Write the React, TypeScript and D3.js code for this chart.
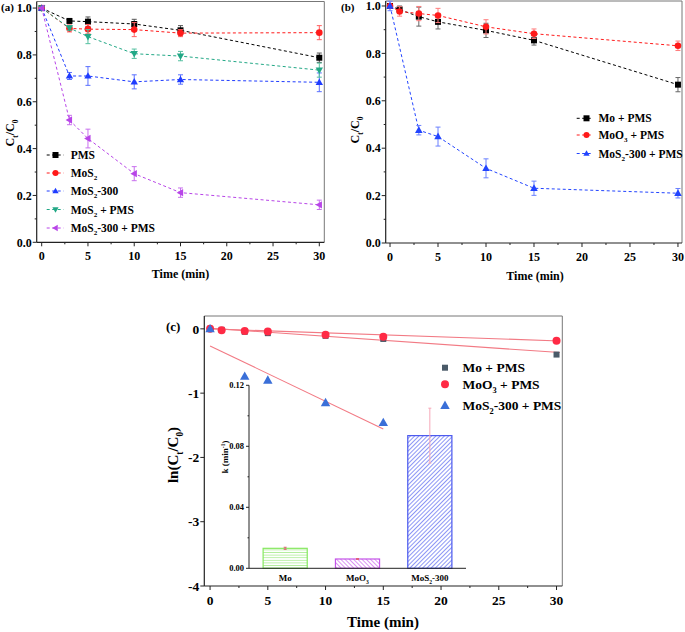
import React from "react";
import * as d3 from "d3";

// ---------- DATA ----------
const tA = [0, 3, 5, 10, 15, 30];
const aPMS = [1, 0.945, 0.942, 0.932, 0.905, 0.788];
const aPMSErr = [0, 0.008, 0.02, 0.02, 0.02, 0.02];
const aMoS2 = [1, 0.913, 0.91, 0.908, 0.893, 0.895];
const aMoS2Err = [0, 0.015, 0.02, 0.03, 0.015, 0.03];
const aMoS2300 = [1, 0.71, 0.71, 0.685, 0.695, 0.683];
const aMoS2300Err = [0, 0.015, 0.04, 0.03, 0.02, 0.04];
const aMoS2PMS = [1, 0.915, 0.878, 0.805, 0.795, 0.735];
const aMoS2PMSErr = [0, 0.01, 0.03, 0.02, 0.02, 0.03];
const aMoS2300PMS = [1, 0.522, 0.443, 0.293, 0.212, 0.16];
const aMoS2300PMSErr = [0, 0.02, 0.04, 0.03, 0.02, 0.02];

const tB = [0, 1, 3, 5, 10, 15, 30];
const bMo = [1, 0.985, 0.955, 0.933, 0.897, 0.855, 0.668];
const bMoErr = [0, 0.015, 0.04, 0.03, 0.03, 0.02, 0.03];
const bMoO3 = [1, 0.977, 0.968, 0.96, 0.912, 0.883, 0.832];
const bMoO3Err = [0, 0.02, 0.03, 0.03, 0.03, 0.02, 0.02];
const tB3 = [0, 3, 5, 10, 15, 30];
const bMoS2 = [1, 0.476, 0.449, 0.315, 0.231, 0.21];
const bMoS2Err = [0.02, 0.02, 0.04, 0.04, 0.03, 0.02];

const tC = [0, 1, 3, 5, 10, 15, 30];
const cMo = [0, -0.015, -0.046, -0.067, -0.109, -0.157, -0.4];
const cMoO3 = [0, -0.023, -0.033, -0.041, -0.092, -0.124, -0.184];
const tC3 = [0, 3, 5, 10, 15];
const cMoS2 = [0, -0.74, -0.8, -1.15, -1.46];
// linear fits: [intercept, slope, tStart, tEnd]
const fitMo = [0.01, -0.0125, 0, 30.3];
const fitMoO3 = [0, -0.0062, 0, 30.3];
const fitMoS2 = [-0.265, -0.0863, 0, 15];

const kCats = ["Mo", "MoO3", "MoS2-300"];
const kVals = [0.0131, 0.0061, 0.087];
const kErrs = [0.0007, 0.0003, 0.018];

const xTicks = [0, 5, 10, 15, 20, 25, 30];
const yTicksAB = [0, 0.2, 0.4, 0.6, 0.8, 1.0];
const yTicksC = [0, -1, -2, -3, -4];
const yTicksK = [0, 0.04, 0.08, 0.12];

const FONT = "Liberation Serif, Times New Roman, Times, serif";

// ---------- helpers ----------
type MType = "square" | "circle" | "up" | "down" | "left";
function markerPath(t: MType, s: number) {
  switch (t) {
    case "square":
      return `M${-s},${-s}h${2 * s}v${2 * s}h${-2 * s}Z`;
    case "circle":
      return `M${-s},0a${s},${s} 0 1,0 ${2 * s},0a${s},${s} 0 1,0 ${-2 * s},0Z`;
    case "up":
      return `M0,${-s * 1.1}L${s * 1.05},${s * 0.75}L${-s * 1.05},${s * 0.75}Z`;
    case "down":
      return `M0,${s * 1.1}L${s * 1.05},${-s * 0.75}L${-s * 1.05},${-s * 0.75}Z`;
    case "left":
      return `M${-s * 1.1},0L${s * 0.75},${s * 1.05}L${s * 0.75},${-s * 1.05}Z`;
  }
}

function Label({ parts, x, y, size, anchor = "start", rotate = 0 }: any) {
  return (
    <text
      x={x}
      y={y}
      fontSize={size}
      fontFamily={FONT}
      fontWeight="bold"
      textAnchor={anchor}
      transform={rotate ? `rotate(${rotate},${x},${y})` : undefined}
    >
      {parts.map((p: any, i: number) =>
        typeof p === "string" ? (
          <tspan key={i}>{p}</tspan>
        ) : (
          <tspan key={i} fontSize={p.small ? size * 0.62 : size} dy={p.dy * size}>
            {p.t}
          </tspan>
        )
      )}
    </text>
  );
}
const sub = (t: string) => ({ t, dy: 0.3, small: true });
const sup = (t: string) => ({ t, dy: -0.38, small: true });
const back = (t: string, d = -0.3) => ({ t, dy: d, small: false });

function Series({ xs, ys, errs, x, y, color, errColor, marker, size, dashed = true }: any) {
  const line = d3
    .line<number>()
    .x((_, i) => x(xs[i]))
    .y((v) => y(v));
  return (
    <g>
      {dashed && (
        <path d={line(ys) || ""} fill="none" stroke={color} strokeWidth={1} strokeDasharray="3,2.5" />
      )}
      {errs &&
        ys.map((v: number, i: number) =>
          errs[i] > 0 ? (
            <g key={i} stroke={errColor} strokeWidth={1}>
              <line x1={x(xs[i])} x2={x(xs[i])} y1={y(v - errs[i])} y2={y(v + errs[i])} />
              <line x1={x(xs[i]) - 2.5} x2={x(xs[i]) + 2.5} y1={y(v - errs[i])} y2={y(v - errs[i])} />
              <line x1={x(xs[i]) - 2.5} x2={x(xs[i]) + 2.5} y1={y(v + errs[i])} y2={y(v + errs[i])} />
            </g>
          ) : null
        )}
      {ys.map((v: number, i: number) => (
        <path key={i} d={markerPath(marker, size)} transform={`translate(${x(xs[i])},${y(v)})`} fill={color} />
      ))}
    </g>
  );
}

function Frame({ x, y, xt, yt, fmt, tickSize, fs, minorX, minorY }: any) {
  const [x0, x1] = x.range();
  const [y0, y1] = y.range();
  return (
    <g>
      <line x1={x0} x2={x1} y1={y1} y2={y1} stroke="#777" strokeWidth={1} />
      <line x1={x1} x2={x1} y1={y1} y2={y0} stroke="#777" strokeWidth={1} />
      <line x1={x0} x2={x1} y1={y0} y2={y0} stroke="#222" strokeWidth={1.2} />
      <line x1={x0} x2={x0} y1={y1} y2={y0} stroke="#222" strokeWidth={1.2} />
      {xt.map((t: number) => (
        <g key={"x" + t}>
          <line x1={x(t)} x2={x(t)} y1={y0} y2={y0 + 4} stroke="#222" />
          <text x={x(t)} y={y0 + tickSize + 6} fontSize={fs} fontFamily={FONT} fontWeight="bold" textAnchor="middle">
            {t}
          </text>
        </g>
      ))}
      {minorX.map((t: number) => (
        <line key={"mx" + t} x1={x(t)} x2={x(t)} y1={y0} y2={y0 + 2} stroke="#222" />
      ))}
      {yt.map((t: number) => (
        <g key={"y" + t}>
          <line x1={x0} x2={x0 - 4} y1={y(t)} y2={y(t)} stroke="#222" />
          <text x={x0 - 5} y={y(t) + fs * 0.35} fontSize={fs} fontFamily={FONT} fontWeight="bold" textAnchor="end">
            {fmt(t)}
          </text>
        </g>
      ))}
      {minorY.map((t: number) => (
        <line key={"my" + t} x1={x0} x2={x0 - 2} y1={y(t)} y2={y(t)} stroke="#222" />
      ))}
    </g>
  );
}

export default function App() {
  const xA = d3.scaleLinear().domain([-0.54, 30.54]).range([36.7, 324.3]);
  const yA = d3.scaleLinear().domain([0, 1.028]).range([242.3, 1.5]);
  const xB = d3.scaleLinear().domain([-0.45, 30.42]).range([385.7, 682]);
  const yB = d3.scaleLinear().domain([0, 1.021]).range([243, 1]);
  const xC = d3.scaleLinear().domain([-0.5, 30.5]).range([204.3, 562.3]);
  const yC = d3.scaleLinear().domain([-4, 0.2]).range([586, 316]);
  const xI = d3.scaleBand<string>().domain(kCats).range([249, 466]).paddingInner(0.39).paddingOuter(0.195);
  const yI = d3.scaleLinear().domain([0, 0.12]).range([568.3, 385.3]);

  const minorX = [2.5, 7.5, 12.5, 17.5, 22.5, 27.5];
  const fmt1 = (v: number) => v.toFixed(1);

  const legA = [
    { parts: ["PMS"], c: "#000", m: "square" },
    { parts: ["MoS", sub("2")], c: "#ff1a1a", m: "circle" },
    { parts: ["MoS", sub("2"), back("-300")], c: "#1f3cff", m: "up" },
    { parts: ["MoS", sub("2"), back(" + PMS")], c: "#22a886", m: "down" },
    { parts: ["MoS", sub("2"), back("-300 + PMS")], c: "#b845e8", m: "left" },
  ];
  const legAy = [155, 173, 191, 209.5, 228];

  const legB = [
    { parts: ["Mo + PMS"], c: "#000", m: "square" },
    { parts: ["MoO", sub("3"), back(" + PMS")], c: "#ff1a1a", m: "circle" },
    { parts: ["MoS", sub("2"), back("-300 + PMS")], c: "#2244ff", m: "up" },
  ];
  const legBy = [118.3, 135, 153.5];

  const legC = [
    { parts: ["Mo + PMS"], c: "#4a5a68", m: "square", s: 3 },
    { parts: ["MoO", sub("3"), back(" + PMS")], c: "#ff2a45", m: "circle", s: 4 },
    { parts: ["MoS", sub("2"), back("-300 + PMS")], c: "#3a6fd8", m: "up", s: 4.5 },
  ];
  const legCy = [367.7, 384.3, 405.5];

  const fitLine = (f: number[]) => (
    <line
      x1={xC(f[2])}
      x2={xC(f[3])}
      y1={yC(f[0] + f[1] * f[2])}
      y2={yC(f[0] + f[1] * f[3])}
      stroke="#f27a84"
      strokeWidth={1.1}
    />
  );

  const barFill = ["url(#hatchH)", "url(#hatchB)", "url(#hatchF)"];
  const barStroke = ["#86e860", "#c455e8", "#4a58ee"];
  const errCol = ["#e0607a", "#e0607a", "#f6a8b8"];

  return (
    <svg width={685} height={632} style={{ position: "absolute", left: 0, top: 0, background: "#fff" }}>
      <defs>
        <pattern id="hatchH" patternUnits="userSpaceOnUse" width="4" height="2.6">
          <line x1="0" x2="4" y1="1.3" y2="1.3" stroke="#9ae87c" strokeWidth="0.7" />
        </pattern>
        <pattern id="hatchB" patternUnits="userSpaceOnUse" width="3" height="3" patternTransform="rotate(45)">
          <line x1="0" x2="3" y1="1.5" y2="1.5" stroke="#cc66ee" strokeWidth="0.7" />
        </pattern>
        <pattern id="hatchF" patternUnits="userSpaceOnUse" width="3" height="3" patternTransform="rotate(-45)">
          <line x1="0" x2="3" y1="1.5" y2="1.5" stroke="#5a68f0" strokeWidth="0.7" />
        </pattern>
      </defs>

      {/* ---------------- Panel A ---------------- */}
      <Frame x={xA} y={yA} xt={xTicks} yt={yTicksAB} fmt={fmt1} tickSize={12} fs={12} minorX={minorX} minorY={[0.1, 0.3, 0.5, 0.7, 0.9]} />
      <Series xs={tA} ys={aPMS} errs={aPMSErr} x={xA} y={yA} color="#000" errColor="#555" marker="square" size={3} />
      <Series xs={tA} ys={aMoS2} errs={aMoS2Err} x={xA} y={yA} color="#ff1a1a" errColor="#ff6060" marker="circle" size={3.3} />
      <Series xs={tA} ys={aMoS2300} errs={aMoS2300Err} x={xA} y={yA} color="#1f3cff" errColor="#5a70ff" marker="up" size={3.5} />
      <Series xs={tA} ys={aMoS2PMS} errs={aMoS2PMSErr} x={xA} y={yA} color="#22a886" errColor="#55c0a0" marker="down" size={3.5} />
      <Series xs={tA} ys={aMoS2300PMS} errs={aMoS2300PMSErr} x={xA} y={yA} color="#b845e8" errColor="#c870ee" marker="left" size={3.5} />
      {legA.map((l, i) => (
        <g key={i}>
          <line x1={46.7} x2={63.5} y1={legAy[i]} y2={legAy[i]} stroke={l.c} strokeDasharray="3,2.5" />
          <path d={markerPath(l.m as MType, 3)} transform={`translate(55.5,${legAy[i]})`} fill={l.c} />
          <Label parts={l.parts} x={70.7} y={legAy[i] + 4} size={11.5} />
        </g>
      ))}
      <Label parts={["C", sub("t"), back("/C"), sub("0")]} x={14} y={133} size={12} anchor="middle" rotate={-90} />
      <Label parts={["Time (min)"]} x={180.5} y={278} size={12} anchor="middle" />
      <Label parts={["(a)"]} x={1} y={11} size={11} />

      {/* ---------------- Panel B ---------------- */}
      <Frame x={xB} y={yB} xt={xTicks} yt={yTicksAB} fmt={fmt1} tickSize={12} fs={12} minorX={minorX} minorY={[0.1, 0.3, 0.5, 0.7, 0.9]} />
      <Series xs={tB} ys={bMo} errs={bMoErr} x={xB} y={yB} color="#000" errColor="#666" marker="square" size={3} />
      <Series xs={tB} ys={bMoO3} errs={bMoO3Err} x={xB} y={yB} color="#ff1a1a" errColor="#ff7a7a" marker="circle" size={3.3} />
      <Series xs={tB3} ys={bMoS2} errs={bMoS2Err} x={xB} y={yB} color="#2244ff" errColor="#6a80ff" marker="up" size={3.6} />
      {legB.map((l, i) => (
        <g key={i}>
          <line x1={576.7} x2={591.7} y1={legBy[i]} y2={legBy[i]} stroke={l.c} strokeDasharray="3,2.5" />
          <path d={markerPath(l.m as MType, 3)} transform={`translate(586.5,${legBy[i]})`} fill={l.c} />
          <Label parts={l.parts} x={598.5} y={legBy[i] + 4} size={11.5} />
        </g>
      ))}
      <Label parts={["C", sub("t"), back("/C"), sub("0")]} x={359} y={130} size={12} anchor="middle" rotate={-90} />
      <Label parts={["Time (min)"]} x={535} y={280} size={12} anchor="middle" />
      <Label parts={["(b)"]} x={341} y={11} size={11} />

      {/* ---------------- Panel C ---------------- */}
      <Frame x={xC} y={yC} xt={xTicks} yt={yTicksC} fmt={(v: number) => (v < 0 ? "-" + Math.abs(v) : String(v))} tickSize={13} fs={13.5} minorX={minorX} minorY={[]} />
      {fitLine(fitMo)}
      {fitLine(fitMoO3)}
      {fitLine(fitMoS2)}

      {/* Inset bar chart */}
      <g>
        {kCats.map((c, i) => (
          <g key={c}>
            <rect
              x={xI(c)}
              y={yI(kVals[i])}
              width={xI.bandwidth()}
              height={yI(0) - yI(kVals[i])}
              fill={barFill[i]}
              stroke={barStroke[i]}
              strokeWidth={1.2}
            />
            <g stroke={errCol[i]} strokeWidth={1}>
              <line x1={xI(c)! + xI.bandwidth() / 2} x2={xI(c)! + xI.bandwidth() / 2} y1={yI(kVals[i] - kErrs[i])} y2={yI(kVals[i] + kErrs[i])} />
              <line x1={xI(c)! + xI.bandwidth() / 2 - 1.5} x2={xI(c)! + xI.bandwidth() / 2 + 1.5} y1={yI(kVals[i] + kErrs[i])} y2={yI(kVals[i] + kErrs[i])} />
              <line x1={xI(c)! + xI.bandwidth() / 2 - 1.5} x2={xI(c)! + xI.bandwidth() / 2 + 1.5} y1={yI(kVals[i] - kErrs[i])} y2={yI(kVals[i] - kErrs[i])} />
            </g>
          </g>
        ))}
        <line x1={249} x2={466} y1={yI(0)} y2={yI(0)} stroke="#222" strokeWidth={1} />
        <line x1={249} x2={249} y1={yI(0)} y2={yI(0.12)} stroke="#222" strokeWidth={1} />
        {yTicksK.map((t) => (
          <g key={t}>
            <line x1={249} x2={246} y1={yI(t)} y2={yI(t)} stroke="#222" />
            <text x={244} y={yI(t) + 3} fontSize={8.5} fontFamily={FONT} fontWeight="bold" textAnchor="end">
              {t.toFixed(2)}
            </text>
          </g>
        ))}
        {[0.02, 0.06, 0.1].map((t) => (
          <line key={t} x1={249} x2={247.5} y1={yI(t)} y2={yI(t)} stroke="#222" />
        ))}
        <Label parts={["Mo"]} x={xI("Mo")! + xI.bandwidth() / 2} y={581} size={9} anchor="middle" />
        <Label parts={["MoO", sub("3")]} x={xI("MoO3")! + xI.bandwidth() / 2} y={581} size={9} anchor="middle" />
        <Label parts={["MoS", sub("2"), back("-300")]} x={xI("MoS2-300")! + xI.bandwidth() / 2} y={581} size={9} anchor="middle" />
        <Label parts={["k (min", sup("-1"), back(")", 0.38)]} x={228} y={457} size={9} anchor="middle" rotate={-90} />
      </g>

      <Series xs={tC} ys={cMo} x={xC} y={yC} color="#4a5a68" marker="square" size={3} dashed={false} />
      <Series xs={tC} ys={cMoO3} x={xC} y={yC} color="#ff2a45" marker="circle" size={4} dashed={false} />
      <Series xs={tC3} ys={cMoS2} x={xC} y={yC} color="#3a6fd8" marker="up" size={4.5} dashed={false} />

      {legC.map((l, i) => (
        <g key={i}>
          <path d={markerPath(l.m as MType, l.s)} transform={`translate(445,${legCy[i]})`} fill={l.c} />
          <Label parts={l.parts} x={462.5} y={legCy[i] + 4.5} size={13.5} />
        </g>
      ))}
      <Label parts={["ln(C", sub("t"), back("/C"), sub("0"), back(")")]} x={178} y={455} size={15} anchor="middle" rotate={-90} />
      <Label parts={["Time (min)"]} x={383} y={627} size={15} anchor="middle" />
      <Label parts={["(c)"]} x={166} y={331} size={13} />
    </svg>
  );
}
